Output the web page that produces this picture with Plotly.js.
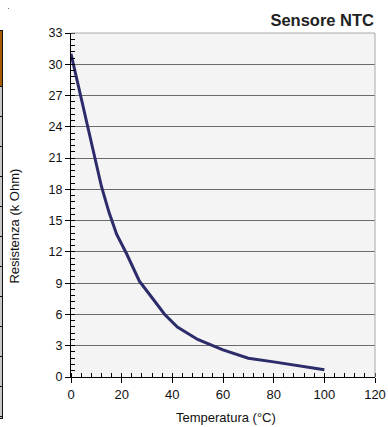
<!DOCTYPE html>
<html>
<head>
<meta charset="utf-8">
<script src="https://cdn.plot.ly/plotly-3.0.1.min.js"></script>
<style>
  html, body { margin: 0; padding: 0; background: #ffffff; }
  #wrap { position: relative; width: 388px; height: 427px; }
  #chart { width: 388px; height: 427px; }
  #edge { position: absolute; left: 0; top: 30px; width: 2px; height: 387px;
          border-right: 1px solid #111; border-top: 1px solid #111; border-bottom: 1px solid #111;
          background: linear-gradient(to bottom, #a85a00 0, #a85a00 55px, #c8c8c8 55px, #c8c8c8 100%); }
  .mark { position: absolute; left: 0; width: 3px; height: 1px; background: #111; }
  #dot { position: absolute; left: 8px; top: 8px; width: 1px; height: 1px; background: #777; }
</style>
</head>
<body>
<div id="wrap">
  <div id="chart"></div>
  <div id="edge"></div>
  <div id="dot"></div>
</div>
<script>
// Temperature (°C) and resistance (k Ohm)
const temperature = [0, 2, 5, 10, 12, 15, 18, 22, 27, 32, 37, 42, 50, 60, 70, 80, 90, 100];
const resistance  = [31.0, 28.9, 25.8, 20.3, 18.3, 15.8, 13.7, 11.8, 9.2, 7.6, 6.0, 4.8, 3.6, 2.6, 1.8, 1.45, 1.07, 0.7];

const titleText = "Sensore NTC";
const xTitle = "Temperatura (°C)";
const yTitle = "Resistenza (k Ohm)";

// left edge row marks (decorative)
const edge = document.getElementById('edge');
for (let y = 55; y < 387; y += 30) {
  const m = document.createElement('div');
  m.className = 'mark';
  m.style.top = y + 'px';
  edge.appendChild(m);
}

const font = "Liberation Sans, Arial, sans-serif";

const trace = {
  x: temperature,
  y: resistance,
  type: 'scatter',
  mode: 'lines',
  line: { color: '#2c2c6a', width: 3 },
  hoverinfo: 'skip'
};

const layout = {
  width: 388,
  height: 427,
  margin: { l: 71, r: 12.5, t: 33.3, b: 50.3 },
  paper_bgcolor: '#ffffff',
  plot_bgcolor: '#f4f4f4',
  showlegend: false,
  font: { family: font, color: '#111', size: 12.5 },
  title: {
    text: '<b>' + titleText + '</b>',
    font: { family: font, size: 16.5, color: '#222' },
    xref: 'container', x: 374 / 388, xanchor: 'right',
    yref: 'container', y: 1 - 20 / 427, yanchor: 'middle'
  },
  xaxis: {
    range: [0, 120],
    dtick: 20,
    tick0: 0,
    showgrid: false,
    zeroline: false,
    showline: true,
    linecolor: '#000',
    linewidth: 1,
    ticks: 'outside',
    ticklen: 5,
    tickcolor: '#000',
    tickfont: { family: font, size: 13, color: '#111' },
    minor: { dtick: 4, ticks: 'inside', ticklen: 4, tickcolor: '#000', showgrid: false },
    fixedrange: true
  },
  yaxis: {
    range: [0, 33],
    dtick: 3,
    tick0: 0,
    showgrid: true,
    gridcolor: '#6a6a6a',
    gridwidth: 1,
    zeroline: false,
    showline: true,
    linecolor: '#000',
    linewidth: 1,
    ticks: 'outside',
    ticklen: 5,
    tickcolor: '#000',
    tickfont: { family: font, size: 12.5, color: '#111' },
    minor: { dtick: 0.6, ticks: 'inside', ticklen: 4, tickcolor: '#000', showgrid: false },
    fixedrange: true
  },
  shapes: [
    { type: 'line', xref: 'paper', yref: 'paper', x0: 0, x1: 1, y0: 1, y1: 1,
      line: { color: '#a8a8a8', width: 1 }, layer: 'above' },
    { type: 'line', xref: 'paper', yref: 'paper', x0: 1, x1: 1, y0: 0, y1: 1,
      line: { color: '#a8a8a8', width: 1 }, layer: 'above' }
  ],
  annotations: [
    { text: xTitle, xref: 'paper', yref: 'paper', x: (226 - 71) / 304.5, y: 0,
      yshift: -40, xanchor: 'center', yanchor: 'middle', showarrow: false,
      font: { family: font, size: 13, color: '#111' } },
    { text: yTitle, xref: 'paper', yref: 'paper', x: 0, y: (376.7 - 226.5) / 343.4,
      xshift: -56, textangle: -90, xanchor: 'center', yanchor: 'middle', showarrow: false,
      font: { family: font, size: 13, color: '#111' } }
  ]
};

Plotly.newPlot('chart', [trace], layout, { displayModeBar: false, staticPlot: true });
</script>
</body>
</html>
